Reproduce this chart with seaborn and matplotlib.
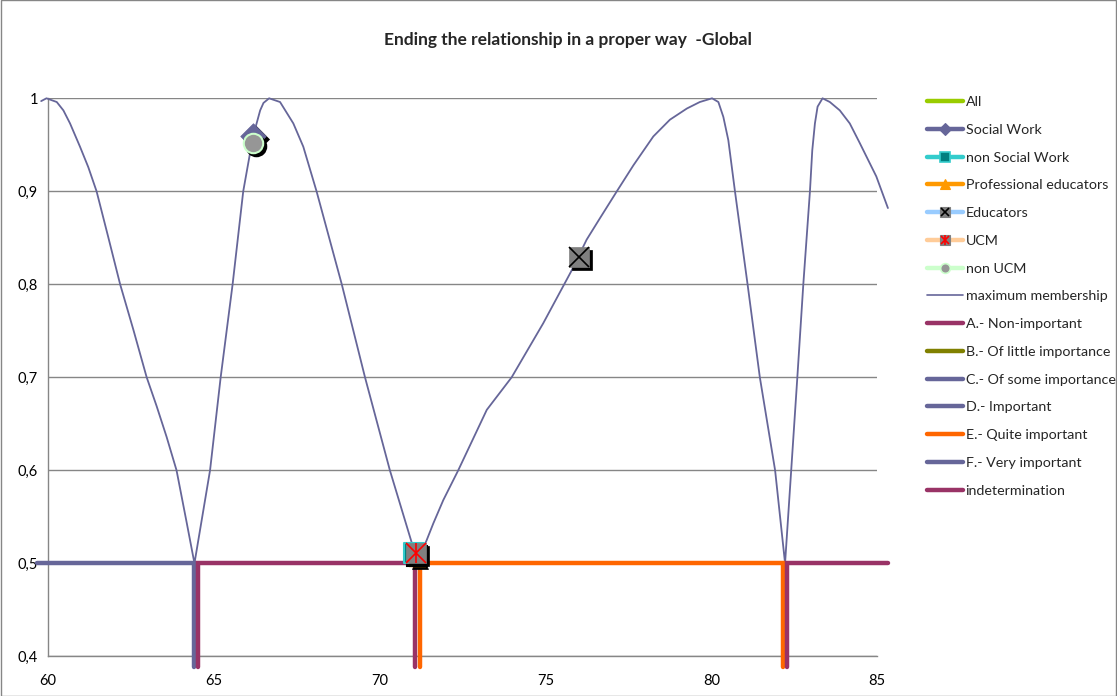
import matplotlib
matplotlib.use("Agg")
import matplotlib.pyplot as plt
import matplotlib.transforms as mtransforms
from matplotlib.lines import Line2D
from matplotlib.legend_handler import HandlerTuple
from matplotlib.ticker import FuncFormatter, MultipleLocator
from matplotlib.patches import Rectangle
import seaborn as sns
import pandas as pd

# ---------------- data ----------------
title = "Ending the relationship in a proper way  -Global"

# maximum membership curve
curve_x = [59.80, 59.96, 60.27, 60.47, 60.67, 60.97, 61.22, 61.47, 61.82, 62.18, 62.58,
           62.98, 63.28, 63.58, 63.88, 64.19, 64.42,
           64.89, 65.21, 65.57, 65.89, 66.09, 66.24, 66.40, 66.50, 66.67,
           67.00, 67.40, 67.70, 68.10, 68.86, 69.56, 70.31, 70.97, 71.12,
           71.42, 71.62, 71.92, 72.37, 73.23, 73.98, 74.93, 75.79, 76.24, 76.64, 77.15,
           77.65, 78.25, 78.75, 79.26, 79.65, 80.02,
           80.21, 80.36, 80.51, 80.71, 81.09, 81.46, 81.92, 82.22,
           82.59, 82.77, 82.97, 83.04, 83.12, 83.20, 83.35,
           83.57, 83.87, 84.17, 84.47, 84.97, 85.32]
curve_y = [0.997, 1.000, 0.996, 0.987, 0.973, 0.948, 0.926, 0.900, 0.851, 0.800, 0.751,
           0.700, 0.669, 0.636, 0.600, 0.543, 0.500,
           0.600, 0.700, 0.800, 0.900, 0.940, 0.966, 0.987, 0.995, 1.000,
           0.996, 0.973, 0.948, 0.900, 0.800, 0.700, 0.600, 0.522, 0.500,
           0.525, 0.543, 0.568, 0.600, 0.665, 0.700, 0.758, 0.815, 0.848, 0.871, 0.900,
           0.928, 0.959, 0.977, 0.989, 0.996, 1.000,
           0.996, 0.980, 0.955, 0.900, 0.800, 0.700, 0.600, 0.500,
           0.700, 0.800, 0.900, 0.944, 0.973, 0.991, 1.000,
           0.996, 0.987, 0.973, 0.952, 0.916, 0.882]

# linguistic category step lines (level 0.5, dropping below the axis)
level = 0.5
floor = 0.388
catF_x = [59.68, 64.40, 64.40]
catF_y = [level, level, floor]
catA_x = [64.52, 64.52, 71.06, 71.06]
catA_y = [floor, level, level, floor]
catE_x = [71.21, 71.21, 82.17, 82.17]
catE_y = [floor, level, level, floor]
indet_x = [82.28, 82.28, 85.33]
indet_y = [floor, level, level]

# group points
all_pt = (76.12, 0.832)
socialwork_pt = (66.19, 0.960)
nonsocialwork_pt = (71.05, 0.511)
profeducators_pt = (71.12, 0.506)
educators_pt = (76.00, 0.829)
ucm_pt = (71.10, 0.511)
nonucm_pt = (66.17, 0.952)

legend_labels = ["All", "Social Work", "non Social Work", "Professional educators",
                 "Educators", "UCM", "non UCM", "maximum membership",
                 "A.- Non-important", "B.- Of little importance", "C.- Of some importance",
                 "D.- Important", "E.- Quite important", "F.- Very important",
                 "indetermination"]

# ---------------- style ----------------
sns.set_theme(style="white")
plt.rcParams['font.family'] = ['Lato', 'DejaVu Sans']

C_BLUE = "#666699"
C_MAG = "#993366"
C_ORANGE = "#ff6600"
GRID = "#868686"

fig = plt.figure(figsize=(11.17, 6.96), dpi=100)
W, H = 1117, 696
ax = fig.add_axes([47.8 / W, (H - 656.3) / H, (877.3 - 47.8) / W, (656.3 - 98.3) / H])
ax.set_xlim(60, 85)
ax.set_ylim(0.4, 1.0)

ax.yaxis.set_major_locator(MultipleLocator(0.1))
ax.xaxis.set_major_locator(MultipleLocator(5))
ax.grid(axis='y', color=GRID, lw=1.0)
ax.grid(axis='x', visible=False)
for s in ["top", "right"]:
    ax.spines[s].set_visible(False)
for s in ["left", "bottom"]:
    ax.spines[s].set_color(GRID)
    ax.spines[s].set_linewidth(1.0)
ax.tick_params(axis='both', direction='out', length=4, color=GRID, width=1,
               labelsize=10.5, labelcolor="black")
ax.tick_params(axis='x', pad=9)
ax.tick_params(axis='y', pad=3)
ax.yaxis.set_major_formatter(FuncFormatter(
    lambda v, p: ("%g" % round(v, 1)).replace(".", ",")))
ax.xaxis.set_major_formatter(FuncFormatter(lambda v, p: "%d" % v))
ax.set_axisbelow(True)

# maximum membership curve
curve_df = pd.DataFrame({"x": curve_x, "y": curve_y})
sns.lineplot(data=curve_df, x="x", y="y", sort=False, estimator=None, ax=ax,
             color=C_BLUE, lw=1.3, zorder=3, clip_on=False, legend=False,
             solid_joinstyle='round')

# step lines
for xs, ys, col in [(catF_x, catF_y, C_BLUE), (catA_x, catA_y, C_MAG),
                    (catE_x, catE_y, C_ORANGE), (indet_x, indet_y, C_MAG)]:
    d = pd.DataFrame({"x": xs, "y": ys})
    sns.lineplot(data=d, x="x", y="y", sort=False, estimator=None, ax=ax,
                 color=col, lw=3.2, zorder=4, clip_on=False, legend=False,
                 solid_joinstyle='miter')

ax.set_xlabel("")
ax.set_ylabel("")

# markers with shadows
shadow = mtransforms.offset_copy(ax.transData, fig=fig, x=3, y=-3, units='dots')

def marker(pt, m, ms, face, edge, ew, z):
    ax.plot([pt[0]], [pt[1]], marker=m, ms=ms, mfc='black', mec='black', mew=ew,
            ls='none', transform=shadow, zorder=z - 0.5, clip_on=False)
    sns.scatterplot(x=[pt[0]], y=[pt[1]], marker=m, s=ms ** 2, color=face,
                    edgecolor=edge, linewidth=ew, ax=ax, zorder=z, legend=False,
                    clip_on=False)

marker(all_pt, 's', 6, "#99cc00", "#99cc00", 0.5, 10)
marker(educators_pt, 's', 15, "#808080", "#808080", 0.5, 11)
ax.plot([educators_pt[0]], [educators_pt[1]], marker='x', ms=14, mec='black', mew=1.2,
        ls='none', zorder=12)

marker(profeducators_pt, '^', 12, "#ff9900", "#ff9900", 0.5, 10)
marker(nonsocialwork_pt, 's', 15, "#008080", "#33cccc", 1.5, 11)
marker(ucm_pt, 's', 15, "#808080", "#808080", 0.5, 12)
ax.plot([ucm_pt[0]], [ucm_pt[1]], marker='x', ms=14, mec='red', mew=1.2, ls='none', zorder=13)
ax.plot([ucm_pt[0]], [ucm_pt[1]], marker='|', ms=15, mec='red', mew=1.2, ls='none', zorder=13)

marker(socialwork_pt, 'D', 13, C_BLUE, C_BLUE, 0.5, 10)
marker(nonucm_pt, 'o', 14, "#969696", "#ccffcc", 1.5, 11)

# title
fig.text(568 / W, 1 - 40 / H, title, ha='center', va='center', fontsize=12.5,
         fontweight='bold')

# legend
def ln(c, lw=3.2):
    return Line2D([], [], color=c, lw=lw)

def mk(m, ms, fc, ec, ew=0.8):
    return Line2D([], [], ls='none', marker=m, ms=ms, mfc=fc, mec=ec, mew=ew)

handles = [
    ln("#99cc00"),
    (ln(C_BLUE), mk('D', 6, C_BLUE, C_BLUE)),
    (ln("#33cccc"), mk('s', 7, "#008080", "#33cccc", 1.2)),
    (ln("#ff9900"), mk('^', 7, "#ff9900", "#ff9900")),
    (ln("#99ccff"), mk('s', 7, "#808080", "#808080"), mk('x', 6, 'black', 'black', 1.2)),
    (ln("#ffcc99"), mk('s', 7, "#808080", "#808080"), mk('x', 6, 'red', 'red', 1.2),
     mk('|', 7, 'red', 'red', 1.2)),
    (ln("#ccffcc"), mk('o', 7, "#969696", "#ccffcc", 1.2)),
    ln(C_BLUE, 1.2),
    ln(C_MAG), ln("#808000"), ln(C_BLUE), ln(C_BLUE), ln(C_ORANGE), ln(C_BLUE), ln(C_MAG),
]
leg = fig.legend(handles, legend_labels, loc='upper left',
                 bbox_to_anchor=(927 / W, 1 - 96 / H), frameon=False, fontsize=10.3,
                 handlelength=2.5, handletextpad=0.2, labelspacing=1.1,
                 handler_map={tuple: HandlerTuple(ndivide=1, pad=0)},
                 borderaxespad=0, borderpad=0)

fig.patches.append(Rectangle((0.0005, 0.0007), 0.999, 0.9986, transform=fig.transFigure,
                             fill=False, edgecolor=GRID, lw=1.0))

fig.savefig("out.png", dpi=100)
